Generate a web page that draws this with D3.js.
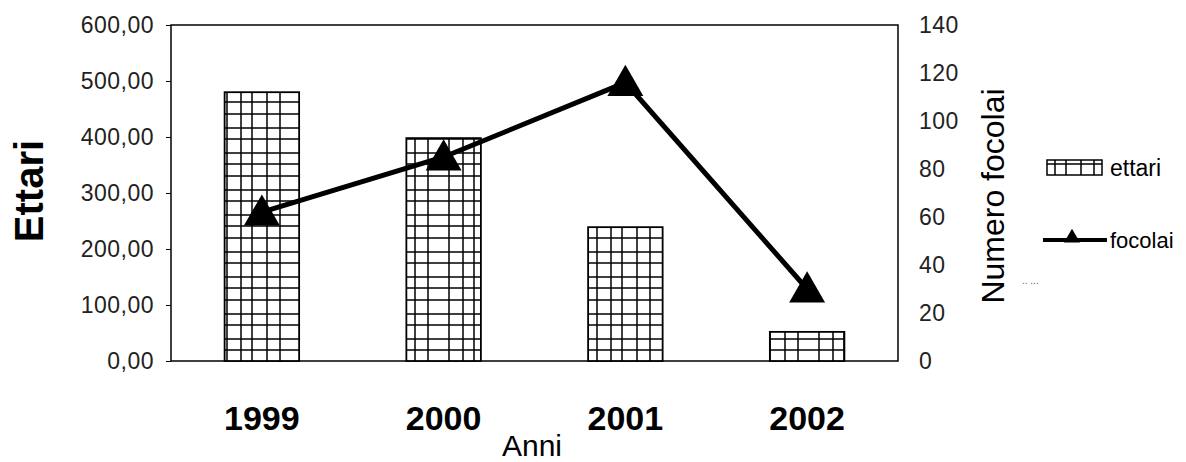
<!DOCTYPE html>
<html>
<head>
<meta charset="utf-8">
<style>
    body { margin: 0; background: white; }
    svg { font-family: 'Liberation Sans', Arial, sans-serif; }
</style>
</head>
<body>
<svg width="1186" height="462"></svg>
<script src="https://d3js.org/d3.v7.min.js"></script>
<script>
    // data
    let anni = ["1999", "2000", "2001", "2002"];
    let ettari = [480, 398, 239, 52];
    let focolai = [62, 85, 116, 30];
    let leftTicks = [0, 100, 200, 300, 400, 500, 600];
    let rightTicks = [0, 20, 40, 60, 80, 100, 120, 140];

    let svg = d3.select("svg");
    let plotL = 171, plotR = 898, plotT = 25, plotB = 361;

    let x = d3.scaleBand().domain(anni).range([plotL, plotR]).paddingInner(0.59).paddingOuter(0.295);
    let yL = d3.scaleLinear().domain([0, 600]).range([plotB, plotT]);
    let yR = d3.scaleLinear().domain([0, 140]).range([plotB, plotT]);

    // grid pattern for the bars (irregular cells like the scan)
    let defs = svg.append("defs");
    let pat = defs.append("pattern")
        .attr("id", "grid")
        .attr("patternUnits", "userSpaceOnUse")
        .attr("width", 74).attr("height", 62);
    pat.append("rect").attr("width", 74).attr("height", 62).style("fill", "white");
    [4, 15, 29, 40, 52].forEach(function (h) {
        pat.append("line").attr("x1", 0).attr("x2", 74).attr("y1", h).attr("y2", h)
            .style("stroke", "black").style("stroke-width", 1.5);
    });
    [5, 19, 30, 45, 58].forEach(function (v) {
        pat.append("line").attr("x1", v).attr("x2", v).attr("y1", 0).attr("y2", 62)
            .style("stroke", "black").style("stroke-width", 1.5);
    });

    // frame
    svg.append("rect")
        .attr("x", plotL).attr("y", plotT)
        .attr("width", plotR - plotL).attr("height", plotB - plotT)
        .style("fill", "none").style("stroke", "black").style("stroke-width", 1.5);

    // bars
    svg.selectAll(".bar")
        .data(ettari)
        .join("rect")
        .attr("class", "bar")
        .attr("x", (d, i) => x(anni[i]))
        .attr("y", d => yL(d))
        .attr("width", x.bandwidth())
        .attr("height", d => yL(0) - yL(d))
        .attr("fill", "url(#grid)")
        .style("stroke", "black")
        .style("stroke-width", 1.8);

    // line
    let line = d3.line()
        .x((d, i) => x(anni[i]) + x.bandwidth() / 2)
        .y(d => yR(d));

    svg.append("path")
        .attr("d", line(focolai))
        .style("fill", "none")
        .style("stroke", "black")
        .style("stroke-width", 5);

    let tri = d3.symbol().type(d3.symbolTriangle).size(560);
    svg.selectAll(".tri")
        .data(focolai)
        .join("path")
        .attr("class", "tri")
        .attr("transform", (d, i) => "translate(" + (x(anni[i]) + x.bandwidth() / 2) + "," + (yR(d) + 3) + ")")
        .attr("d", tri)
        .style("fill", "black");

    // left axis
    let axL = svg.append("g")
        .attr("transform", "translate(" + plotL + ",0)")
        .call(d3.axisLeft(yL).tickValues(leftTicks).tickSize(5).tickPadding(12)
            .tickFormat(d => d3.format(".2f")(d).replace(".", ",")));
    axL.select(".domain").remove();
    axL.selectAll("text").style("font-size", "23px").style("letter-spacing", "0.5px").style("fill", "#222");

    // right axis
    let axR = svg.append("g")
        .attr("transform", "translate(" + plotR + ",0)")
        .call(d3.axisRight(yR).tickValues(rightTicks).tickSize(0).tickPadding(21));
    axR.select(".domain").remove();
    axR.selectAll("text").style("font-size", "23px").style("letter-spacing", "0.5px").style("fill", "#222");

    // year labels
    svg.selectAll(".anno")
        .data(anni)
        .join("text")
        .attr("class", "anno")
        .attr("x", d => x(d) + x.bandwidth() / 2)
        .attr("y", 430)
        .attr("text-anchor", "middle")
        .style("font-size", "34px")
        .style("font-weight", "bold")
        .text(d => d);

    svg.append("text")
        .attr("x", 532).attr("y", 456)
        .attr("text-anchor", "middle")
        .style("font-size", "30px")
        .text("Anni");

    svg.append("text")
        .attr("transform", "translate(43,191) rotate(-90)")
        .attr("text-anchor", "middle")
        .style("font-size", "40px")
        .style("font-weight", "bold")
        .text("Ettari");

    svg.append("text")
        .attr("transform", "translate(1004,196) rotate(-90)")
        .attr("text-anchor", "middle")
        .style("font-size", "32px")
        .text("Numero focolai");

    // legend
    svg.append("rect")
        .attr("x", 1047).attr("y", 160).attr("width", 55).attr("height", 15)
        .attr("fill", "url(#grid)")
        .style("stroke", "black").style("stroke-width", 1.5);
    svg.append("text")
        .attr("x", 1110).attr("y", 176)
        .style("font-size", "23px")
        .text("ettari");

    svg.append("line")
        .attr("x1", 1043).attr("x2", 1107).attr("y1", 240).attr("y2", 240)
        .style("stroke", "black").style("stroke-width", 4);
    svg.append("path")
        .attr("transform", "translate(1072,238)")
        .attr("d", d3.symbol().type(d3.symbolTriangle).size(110))
        .style("fill", "black");
    svg.append("text")
        .attr("x", 1110).attr("y", 248)
        .style("font-size", "22px")
        .text("focolai");
    svg.append("text")
        .attr("x", 1022).attr("y", 284)
        .style("font-size", "10px")
        .style("fill", "#666")
        .text(".. ...");
</script>
</body>
</html>
